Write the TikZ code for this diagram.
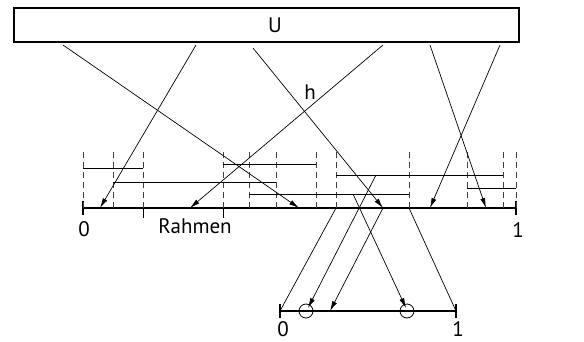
\documentclass[tikz,border=0pt]{standalone}
\usepackage{fontspec}
\setmainfont{PT Sans}
\usetikzlibrary{arrows.meta,positioning,calc}

\begin{document}
\begin{tikzpicture}[
      x=1pt, y=-1pt,
      lbl/.style={font=\fontsize{21}{24}\selectfont, inner sep=0pt, anchor=base},
      ubox/.style={draw, line width=1.2pt, minimum width=505pt, minimum height=34pt, inner sep=0pt},
      axis/.style={line width=2pt},
      tick/.style={line width=1.4pt},
      ival/.style={line width=0.8pt},
      grid/.style={line width=0.9pt, draw=black!75, dash pattern=on 6pt off 4pt},
      arr/.style={-{Latex[length=10pt,width=5pt]}, line width=0.7pt},
      lnk/.style={line width=0.7pt},
      ring/.style={circle, draw, line width=0.8pt, minimum size=14pt, inner sep=0pt}
    ]
      \useasboundingbox (0,0) rectangle (584,341);

      % the whole sequence U
      \node[ubox] (U) at (266.5,25) {};
      \node[lbl] (Ulbl) at (275,32) {U};

      % main axis [0,1]
      \coordinate (m0) at (83,208);
      \coordinate (m1) at (516,208);
      \draw[axis] (m0) -- (m1);
      \draw[tick] (83,201) -- (83,215);
      \draw[tick] (516,201) -- (516,215);
      \draw[lnk] (143,204) -- (143,218);
      \draw[lnk] (223,204) -- (223,218);
      \node[lbl] (zero) at (84,236) {0};
      \node[lbl] (one) at (518,237) {1};
      \node[lbl] (rahmen) at (195,233) {Rahmen};

      % interval borders
      \foreach \x in {83,113,143,223,249,276,316,336,409,467,503,516}
        \draw[grid] (\x,208) -- (\x,149);

      % intervals
      \draw[ival] (83,168) -- (143,168);
      \draw[ival] (113,182) -- (276,182);
      \draw[ival] (223,164) -- (316,164);
      \draw[ival] (249,194) -- (409,194);
      \draw[ival] (336,175) -- (503,175);
      \draw[ival] (467,188) -- (516,188);

      % maps from U onto the axis
      \coordinate (a1) at (63,45);   \coordinate (t1) at (299,208);
      \coordinate (a2) at (196,45);  \coordinate (t2) at (100,208);
      \coordinate (a3) at (253,48);  \coordinate (t3) at (383,208);
      \coordinate (a4) at (383,45);  \coordinate (t4) at (190,208);
      \coordinate (a5) at (430,45);  \coordinate (t5) at (486,208);
      \coordinate (a6) at (500,45);  \coordinate (t6) at (430,208);
      \draw[arr] (a1) -- (t1);
      \draw[arr] (a2) -- (t2);
      \draw[arr] (a3) -- (t3);
      \draw[arr] (a4) -- (t4);
      \draw[arr] (a5) -- (t5);
      \draw[arr] (a6) -- (t6);
      \node[lbl] (h) at (310,99) {h};

      % lower axis
      \coordinate (n0) at (280,311);
      \coordinate (n1) at (456,311);
      \draw[axis] (n0) -- (n1);
      \draw[tick] (280,304) -- (280,318);
      \draw[tick] (456,304) -- (456,318);
      \node[lbl] (zero2) at (283,336) {0};
      \node[lbl] (one2) at (458,336) {1};
      \node[ring] (c1) at (306,311) {};
      \node[ring] (c2) at (407,311) {};

      % frame onto lower axis
      \coordinate (f0) at (336,208);
      \coordinate (f1) at (409,208);
      \coordinate (s2) at (376,175);
      \coordinate (s4) at (353,194);
      \coordinate (e3) at (330,311);
      \draw[lnk] (f0) -- (n0);
      \draw[lnk] (f1) -- (n1);
      \draw[arr] (s2) -- ($(c1.center)+(2,-3)$);
      \draw[arr] (t3) -- (e3);
      \draw[arr] (s4) -- ($(c2.center)+(-1,-3)$);
\end{tikzpicture}
\end{document}
